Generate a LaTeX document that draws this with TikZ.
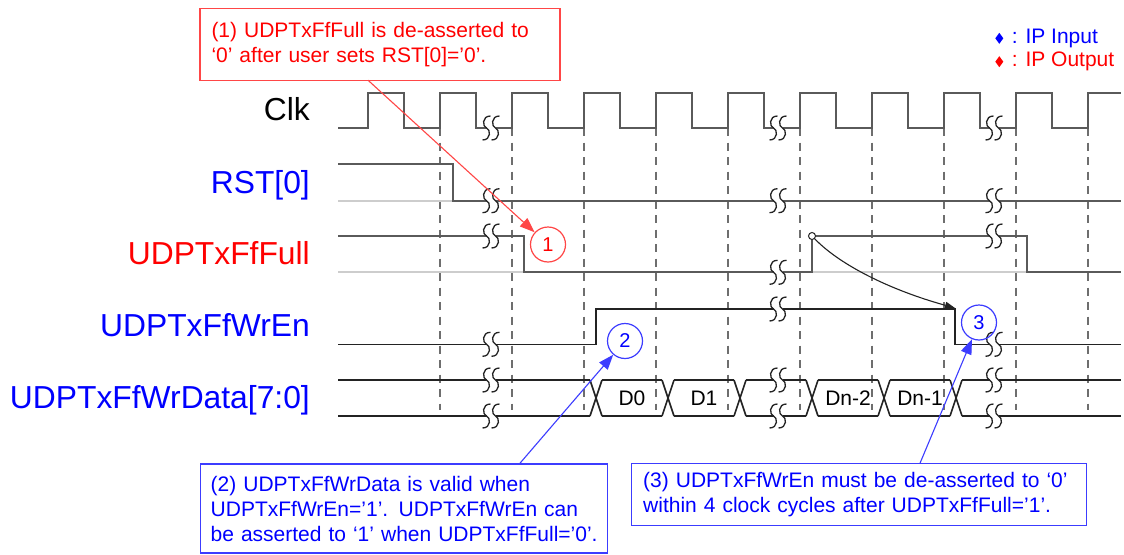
\documentclass[tikz,border=0pt]{standalone}
\usepackage{fontspec}
\setmainfont{Liberation Sans}
\usetikzlibrary{arrows.meta}
\definecolor{wgray}{RGB}{90,90,90}
\definecolor{wdark}{RGB}{35,35,35}
\definecolor{wbase}{RGB}{205,205,205}
\definecolor{wgrid}{RGB}{110,110,110}
\definecolor{cred}{RGB}{255,70,70}
\definecolor{cblue}{RGB}{60,60,255}
\tikzset{
  brk/.pic={
    \fill[white] (-4.5,-2.6) rectangle (4.5,2.6);
    \draw[line width=1.3pt, wdark] (-0.5,-12) .. controls (-9.5,-12) and (-8.5,-1) .. (-4.5,0) .. controls (-0.5,1) and (0.5,12) .. (-8.5,12);
    \draw[line width=1.3pt, wdark] (8.5,-12) .. controls (-0.5,-12) and (0.5,-1) .. (4.5,0) .. controls (8.5,1) and (9.5,12) .. (0.5,12);
  }
}
\begin{document}
\begin{tikzpicture}[x=1pt,y=-1pt,
  sig/.style={line width=2pt, wgray},
  sigd/.style={line width=1.6pt, wdark},
  basel/.style={line width=2pt, wbase},
  gridl/.style={line width=1.4pt, wgrid, dash pattern=on 8pt off 6.5pt},
  lbl/.style={anchor=base east, inner sep=0pt, font=\fontsize{31.8}{36}\selectfont},
  cbox/.style={draw, line width=1.4pt, align=left, inner xsep=11.5pt, inner ysep=0pt, font=\fontsize{21}{25}\selectfont},
  numc/.style={circle, draw, line width=1.2pt, minimum size=35pt, inner sep=0pt, font=\fontsize{20}{24}\selectfont},
  dlab/.style={inner sep=0pt, font=\fontsize{21}{24}\selectfont},
  leg/.style={anchor=west, inner sep=0pt, font=\fontsize{21}{24}\selectfont},
  carr/.style={line width=1.1pt, -{Triangle[length=15pt,width=11pt]}},
]
\useasboundingbox (0,0) rectangle (1124,554);
\fill[white] (0,0) rectangle (1124,554);

% signal labels
\node[lbl] (lclk) at (310,120) {Clk};
\node[lbl, text=blue] (lrst) at (310,193.5) {RST[0]};
\node[lbl, text=red] (lful) at (310,264.3) {UDPTxFfFull};
\node[lbl, text=blue] (lwen) at (310,336.7) {UDPTxFfWrEn};
\node[lbl, text=blue] (ldat) at (310,408) {UDPTxFfWrData[7:0]};

% dashed clock-edge lines
\foreach \x in {440,512,...,1088} \draw[gridl] (\x,128) -- (\x,410);

% clock
\draw[sig] (338,128) foreach \r in {368,440,...,1016} { -- (\r,128) -- (\r,92.5) -- ({\r+36},92.5) -- ({\r+36},128) } -- (1088,128) -- (1088,92.5) -- (1121,92.5);

% RST[0]
\draw[basel] (338,200.7) -- (453,200.7);
\draw[sig] (338,164.3) -- (453,164.3) -- (453,200.7) -- (1121,200.7);

% UDPTxFfFull
\draw[basel] (338,272.3) -- (524,272.3) (812,272.3) -- (1027,272.3);
\draw[sig] (338,236) -- (524,236) -- (524,272.3) -- (812,272.3) -- (812,236) -- (1027,236) -- (1027,272.3) -- (1121,272.3);

% UDPTxFfWrEn
\draw[sigd] (338,344.3) -- (596,344.3) -- (596,309) -- (955,309) -- (955,344.3) -- (1121,344.3);

% UDPTxFfWrData bus
\foreach \a/\b in {338/590,602/662,674/734,746/806,818/878,890/950,962/1121}
  \draw[sigd] (\a,380) -- (\b,380) (\a,416) -- (\b,416);
\foreach \t in {596,668,740,812,884,956}
  \draw[sigd] ({\t-6},380) -- ({\t+6},416) ({\t-6},416) -- ({\t+6},380);
\node[dlab] (d0) at (632,398) {D0};
\node[dlab] (d1) at (704,398) {D1};
\node[dlab] (dn2) at (848,398) {Dn-2};
\node[dlab] (dn1) at (920,398) {Dn-1};

% break marks
\foreach \y in {128,200.7,236,344.3,380,416} \pic at (491,\y) {brk};
\foreach \y in {128,200.7,272.3,309,380,416} \pic at (778,\y) {brk};
\foreach \y in {128,200.7,236,344.3,380,416} \pic at (994,\y) {brk};

% full -> wren relation
\node[circle, draw=wdark, fill=white, line width=1pt, minimum size=7pt, inner sep=0pt] (fc) at (812,236) {};
\coordinate (wre) at (955,308);
\draw[line width=1.1pt, wdark, -{Triangle[length=10pt,width=7pt]}] (fc) .. controls (840,265) and (890,290) .. (wre);

% numbered circles
\node[numc, draw=cred, text=red] (n1) at (548,244.5) {1};
\node[numc, draw=cblue, text=blue] (n2) at (625,341) {2};
\node[numc, draw=cblue, text=blue] (n3) at (979,322.5) {3};

% callouts
\node[cbox, draw=cred, text=red, minimum width=360pt, minimum height=72pt, text width=337pt] (c1) at (380,44.2)
  {\mbox{(1) UDPTxFfFull is de-asserted to}\\\mbox{‘0’ after user sets RST[0]=’0’.}};
\node[cbox, draw=cblue, text=blue, inner xsep=10pt, minimum width=407pt, minimum height=89pt, text width=387pt] (c2) at (404.2,508.5)
  {\mbox{(2) UDPTxFfWrData is valid when}\\\mbox{UDPTxFfWrEn=’1’. UDPTxFfWrEn can}\\\mbox{be asserted to ‘1’ when UDPTxFfFull=’0’.}};
\node[cbox, draw=cblue, text=blue, minimum width=455pt, minimum height=62pt, text width=432pt] (c3) at (859.2,494.2)
  {\mbox{(3) UDPTxFfWrEn must be de-asserted to ‘0’}\\\mbox{within 4 clock cycles after UDPTxFfFull=’1’.}};

\coordinate (a1) at (368,80.2);
\coordinate (a2) at (520,463.2);
\coordinate (a3) at (920,463.2);
\draw[carr, cred] (a1) -- (n1);
\draw[carr, cblue] (a2) -- (n2);
\draw[carr, cblue] (a3) -- (n3);

% legend
\fill[blue] (999.3,32.8) -- (1003.3,38.3) -- (999.3,43.8) -- (995.3,38.3) -- cycle;
\fill[red] (999.3,56.2) -- (1003.3,61.7) -- (999.3,67.2) -- (995.3,61.7) -- cycle;
\node[leg, text=blue] (lgi) at (1011.7,38.3) {: IP Input};
\node[leg, text=red] (lgo) at (1011.7,61.7) {: IP Output};
\end{tikzpicture}
\end{document}
